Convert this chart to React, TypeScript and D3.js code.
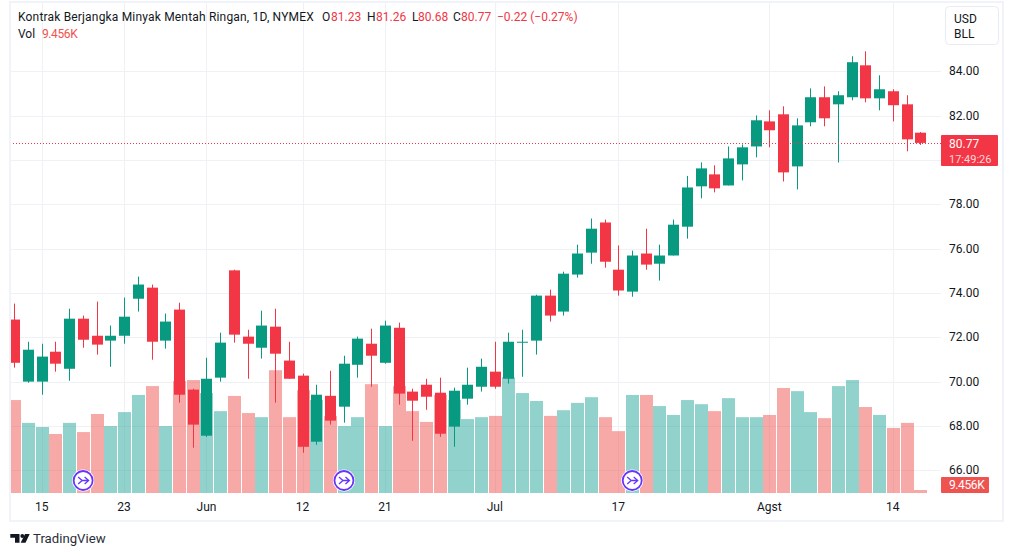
import React, { useEffect, useRef } from "react"
import * as d3 from "d3"

const opens = [72.8,70.0,70.0,71.35,70.58,72.84,72.07,71.85,72.07,73.74,74.24,71.85,73.25,69.64,67.56,70.18,75.02,72.03,71.53,72.48,70.95,70.27,67.29,69.36,68.87,70.76,71.71,70.85,72.43,69.55,69.86,69.5,67.97,69.23,69.77,70.45,70.13,71.77,71.85,73.88,73.16,74.83,75.82,77.18,75.05,74.06,75.78,75.32,75.69,76.99,78.81,79.35,78.85,79.8,80.61,81.74,82.06,79.71,81.7,82.83,82.51,82.83,84.27,82.78,83.1,82.51,81.23]
const highs = [73.52,71.8,71.71,71.8,73.29,72.98,73.61,72.53,73.79,74.74,74.38,73.07,73.56,69.68,71.08,72.21,75.05,72.34,73.2,73.29,71.8,70.36,69.86,70.49,71.17,72.03,72.39,72.75,72.66,69.68,70.13,70.18,69.73,70.63,71.04,71.8,72.21,72.34,73.92,74.15,74.96,76.18,77.36,77.31,76.14,75.91,76.9,76.18,77.31,79.28,79.89,79.76,80.61,80.7,82.01,82.24,82.42,81.88,83.23,83.32,83.1,84.68,84.9,83.82,83.19,82.92,81.26]
const lows = [70.63,69.95,69.41,70.45,70.04,71.53,71.22,70.67,71.71,73.16,70.99,71.49,69.05,67.02,67.51,70.0,71.76,70.13,71.04,69.05,70.13,66.79,67.15,68.06,68.15,70.18,69.77,70.81,68.96,67.33,68.73,67.51,67.06,68.96,69.55,69.68,69.91,70.22,71.22,72.71,72.98,74.69,75.32,75.14,73.88,73.83,75.05,74.56,75.69,76.45,78.27,78.54,78.85,79.08,80.12,80.57,79.03,78.67,81.52,81.52,79.89,82.69,82.6,82.24,81.74,80.39,80.68]
const closes = [70.85,71.44,71.13,70.81,72.84,71.89,71.67,72.07,72.93,74.38,71.8,72.71,69.41,68.06,70.13,71.76,72.12,71.71,72.53,71.26,70.13,67.06,69.41,68.24,70.81,71.94,71.17,72.53,69.46,69.14,69.32,67.65,69.59,69.86,70.67,69.77,71.8,71.8,73.88,72.98,74.87,75.78,76.9,75.41,74.11,75.69,75.28,75.69,77.08,78.76,79.62,78.72,80.07,80.57,81.79,81.34,79.44,81.56,82.83,81.88,82.92,84.41,82.78,83.19,82.47,80.93,80.77]
const volumes = [293,221,208,186,221,192,249,211,255,309,337,211,353,356,315,258,306,252,239,387,239,324,293,243,211,239,343,211,337,258,224,309,293,233,239,243,365,315,290,243,261,284,302,239,195,309,309,274,246,293,280,258,299,239,239,246,331,321,255,236,337,356,271,246,205,221,9.456]

const priceTicks = [66,68,70,72,74,76,78,80,82,84]
// 80.00 sits under the last price badge, so it gets a grid line but no label
const priceLabels = [66,68,70,72,74,76,78,82,84]
const dateIdx = [2,8,14,21,27,35,44,55,64]
const dateLabels = ["15","23","Jun","12","21","Jul","17","Agst","14"]
const eventIdx = [5,24,45]

const UP = "#089981"
const DOWN = "#F23645"
const UPVOL = "#26a69a"
const DOWNVOL = "#EF5350"
const TEXT = "#131722"
const FONT = "Roboto, sans-serif"
const W = 1013, H = 556
const left = 10, right = 941, bottom = 493

const legendBits = [
  { x: 322, t: "O", c: TEXT }, { x: 331, t: "81.23", c: DOWN },
  { x: 367, t: "H", c: TEXT }, { x: 376, t: "81.26", c: DOWN },
  { x: 412, t: "L", c: TEXT }, { x: 418, t: "80.68", c: DOWN },
  { x: 453, t: "C", c: TEXT }, { x: 461, t: "80.77", c: DOWN },
  { x: 497, t: "\u22120.22 (\u22120.27%)", c: DOWN },
]

export default function App() {
  const ref = useRef<SVGSVGElement>(null)

  useEffect(() => {
    const svg = d3.select(ref.current)
    svg.selectAll("*").remove()

    const x = d3.scaleLinear().domain([0, 66]).range([14.3, 920.3])
    const y = d3.scaleLinear().domain([66, 84]).range([470.3, 71.3])
    const yVol = d3.scaleLinear().domain([0, 400]).range([bottom, bottom - 126.9])

    // clip so the first candle is cut by the pane edge
    svg.append("defs").append("clipPath").attr("id", "pane")
      .append("rect").attr("x", left).attr("y", 3).attr("width", right - left).attr("height", bottom - 3)

    // grid
    svg.append("g").selectAll("line").data(priceTicks).enter().append("line")
      .attr("x1", left).attr("x2", right)
      .attr("y1", (d: number) => Math.round(y(d)) + 0.5).attr("y2", (d: number) => Math.round(y(d)) + 0.5)
      .attr("stroke", "#f0f1f4")
    svg.append("g").selectAll("line").data(dateIdx).enter().append("line")
      .attr("x1", (d: number) => Math.round(x(d)) + 0.5).attr("x2", (d: number) => Math.round(x(d)) + 0.5)
      .attr("y1", 3).attr("y2", bottom)
      .attr("stroke", "#f0f1f4")

    const pane = svg.append("g").attr("clip-path", "url(#pane)")

    // volume
    pane.append("g").selectAll("rect").data(volumes).enter().append("rect")
      .attr("x", (_: number, i: number) => Math.round(x(i)) - 6)
      .attr("width", 13)
      .attr("y", (d: number) => yVol(d))
      .attr("height", (d: number) => bottom - yVol(d))
      .attr("fill", (_: number, i: number) => closes[i] >= opens[i] ? UPVOL : DOWNVOL)
      .attr("fill-opacity", 0.5)

    // wicks
    pane.append("g").selectAll("line").data(opens).enter().append("line")
      .attr("x1", (_: number, i: number) => Math.round(x(i)) + 0.5)
      .attr("x2", (_: number, i: number) => Math.round(x(i)) + 0.5)
      .attr("y1", (_: number, i: number) => y(highs[i]))
      .attr("y2", (_: number, i: number) => y(lows[i]))
      .attr("stroke", (d: number, i: number) => closes[i] >= d ? UP : DOWN)

    // bodies
    pane.append("g").selectAll("rect").data(opens).enter().append("rect")
      .attr("x", (_: number, i: number) => Math.round(x(i)) - 5)
      .attr("width", 11)
      .attr("y", (d: number, i: number) => y(Math.max(d, closes[i])))
      .attr("height", (d: number, i: number) => Math.max(1, Math.abs(y(d) - y(closes[i]))))
      .attr("fill", (d: number, i: number) => closes[i] >= d ? UP : DOWN)

    // last price line
    const lastY = Math.round(y(closes[closes.length - 1])) + 0.5
    svg.append("line").attr("x1", left).attr("x2", right).attr("y1", lastY).attr("y2", lastY)
      .attr("stroke", DOWN).attr("stroke-dasharray", "1 2")

    // event markers
    const ev = svg.append("g").selectAll("g").data(eventIdx).enter().append("g")
      .attr("transform", (d: number) => `translate(${x(d) + 0.2},480.5)`)
    ev.append("circle").attr("r", 11).attr("fill", "#fff")
    ev.append("circle").attr("r", 9.5).attr("fill", "#fff").attr("stroke", "#6633ff").attr("stroke-width", 1.8)
    ev.append("path").attr("d", "M-5,-3.5 L-1,0 L-5,3.5 M-1,0 H5 M1.5,-3.5 L5.5,0 L1.5,3.5")
      .attr("fill", "none").attr("stroke", "#6633ff").attr("stroke-width", 1.3)

    // price axis
    svg.append("g").selectAll("text").data(priceLabels).enter().append("text")
      .attr("x", 949).attr("y", (d: number) => y(d) + 4)
      .attr("font-family", FONT).attr("font-size", 12).attr("fill", TEXT)
      .text((d: number) => d3.format(".2f")(d))

    // time axis
    svg.append("g").selectAll("text").data(dateLabels).enter().append("text")
      .attr("x", (_: string, i: number) => x(dateIdx[i]))
      .attr("y", 511).attr("text-anchor", "middle")
      .attr("font-family", FONT).attr("font-size", 12).attr("fill", TEXT)
      .text((d: string) => d)

    // axis badges
    svg.append("rect").attr("x", right).attr("y", 135).attr("width", 57).attr("height", 31).attr("rx", 1).attr("fill", DOWN)
    svg.append("text").attr("x", 949).attr("y", 147.5).attr("font-family", FONT).attr("font-size", 12).attr("fill", "#fff").text("80.77")
    svg.append("text").attr("x", 949).attr("y", 163).attr("font-family", FONT).attr("font-size", 11).attr("fill", "#fff").attr("fill-opacity", 0.8).text("17:49:26")
    svg.append("rect").attr("x", right).attr("y", 477).attr("width", 48).attr("height", 16).attr("rx", 1).attr("fill", DOWNVOL)
    svg.append("text").attr("x", 949).attr("y", 489).attr("font-family", FONT).attr("font-size", 12).attr("letter-spacing", -0.4).attr("fill", "#fff").text("9.456K")

    // currency button
    svg.append("rect").attr("x", 945.5).attr("y", 6.5).attr("width", 53).attr("height", 38).attr("rx", 4)
      .attr("fill", "#fff").attr("stroke", "#e9ebf2")
    svg.append("text").attr("x", 954).attr("y", 23).attr("font-family", FONT).attr("font-size", 12).attr("fill", TEXT).text("USD")
    svg.append("text").attr("x", 954).attr("y", 38).attr("font-family", FONT).attr("font-size", 12).attr("fill", TEXT).text("BLL")

    // legend
    svg.append("text").attr("x", 18).attr("y", 21).attr("font-family", FONT).attr("font-size", 12).attr("letter-spacing", 0.18).attr("fill", TEXT)
      .text("Kontrak Berjangka Minyak Mentah Ringan, 1D, NYMEX")
    svg.append("g").selectAll("text").data(legendBits).enter().append("text")
      .attr("x", (d: any) => d.x).attr("y", 21).attr("font-family", FONT).attr("font-size", 12)
      .attr("fill", (d: any) => d.c).text((d: any) => d.t)
    svg.append("text").attr("x", 18).attr("y", 38).attr("font-family", FONT).attr("font-size", 12).attr("fill", TEXT).text("Vol")
    svg.append("text").attr("x", 42).attr("y", 38).attr("font-family", FONT).attr("font-size", 12).attr("letter-spacing", -0.4).attr("fill", DOWNVOL).text("9.456K")

    // frame
    svg.append("rect").attr("x", 10).attr("y", 2).attr("width", 993).attr("height", 519)
      .attr("fill", "none").attr("stroke", "#f0f3fa").attr("stroke-width", 2)

    // footer
    svg.append("path").attr("d", "M10.3,534 H19.5 V542.7 H15 V537.8 H10.3 Z M25,534 H29.7 L25.5,542.7 H20.7 Z").attr("fill", TEXT)
    svg.append("circle").attr("cx", 22.3).attr("cy", 536).attr("r", 1.9).attr("fill", TEXT)
    svg.append("text").attr("x", 33).attr("y", 543).attr("font-family", FONT).attr("font-size", 13.2).attr("fill", "#2a2e39").text("TradingView")
  }, [])

  return <svg ref={ref} width={W} height={H} style={{ position: "absolute", left: 0, top: 0, background: "#fff" }} />
}
